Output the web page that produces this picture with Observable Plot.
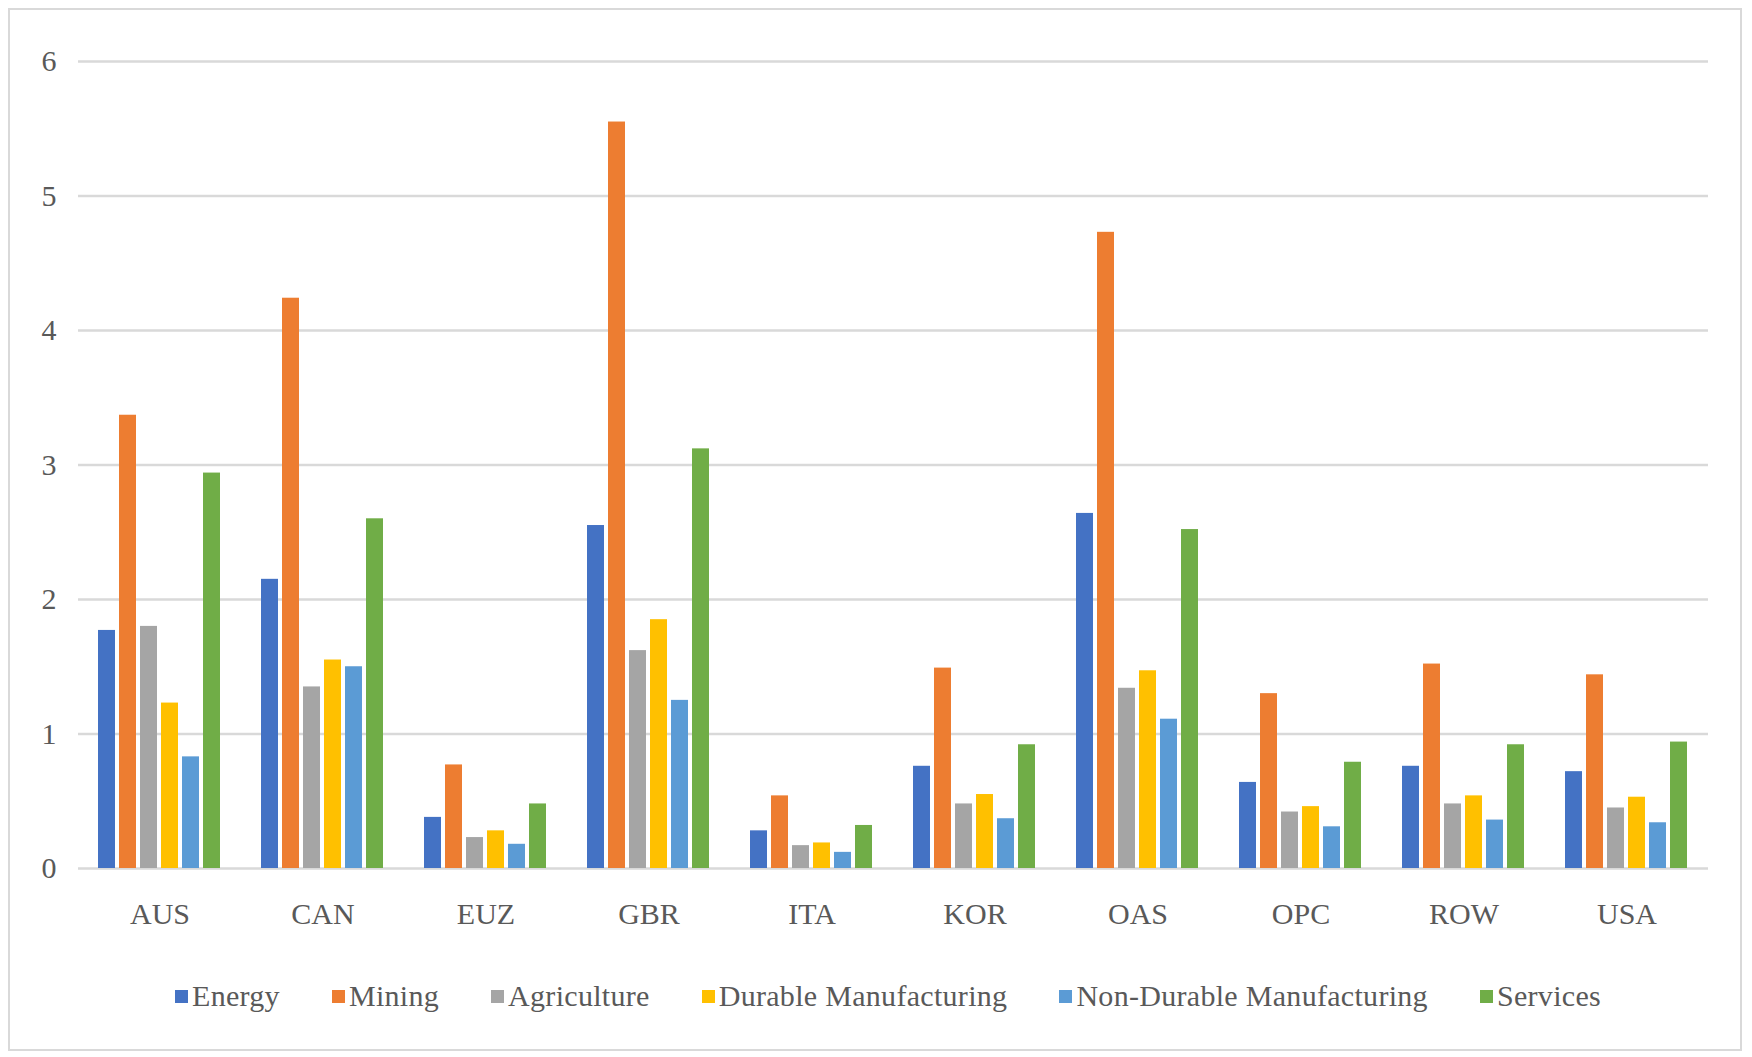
<!DOCTYPE html>
<html>
<head>
<meta charset="utf-8">
<script src="https://cdn.jsdelivr.net/npm/d3@7"></script>
<script src="https://cdn.jsdelivr.net/npm/@observablehq/plot@0.6"></script>
<style>
  html, body { margin: 0; padding: 0; background: #fff; }
  #frame { position: absolute; left: 8px; top: 8px; width: 1734px; height: 1043px; border: 2px solid #d9d9d9; box-sizing: border-box; }
  #chart { position: absolute; left: 0; top: 0; }
  #legend { position: absolute; left: 0; top: 979px; width: 1752px; padding-left: 24px; box-sizing: border-box; display: flex; justify-content: center; gap: 52px;
            font-family: "Liberation Serif", serif; font-size: 30px; color: #595959; letter-spacing: 0.3px; }
  .item { display: flex; align-items: center; gap: 4px; }
  .sw { width: 13px; height: 13px; display: inline-block; }
</style>
</head>
<body>
<div id="frame"></div>
<div id="chart"></div>
<div id="legend"></div>
<script>
const countries = ["AUS","CAN","EUZ","GBR","ITA","KOR","OAS","OPC","ROW","USA"];
const sectors = ["Energy","Mining","Agriculture","Durable Manufacturing","Non-Durable Manufacturing","Services"];
const energy      = [1.77, 2.15, 0.38, 2.55, 0.28, 0.76, 2.64, 0.64, 0.76, 0.72];
const mining      = [3.37, 4.24, 0.77, 5.55, 0.54, 1.49, 4.73, 1.30, 1.52, 1.44];
const agriculture = [1.80, 1.35, 0.23, 1.62, 0.17, 0.48, 1.34, 0.42, 0.48, 0.45];
const durable     = [1.23, 1.55, 0.28, 1.85, 0.19, 0.55, 1.47, 0.46, 0.54, 0.53];
const nondurable  = [0.83, 1.50, 0.18, 1.25, 0.12, 0.37, 1.11, 0.31, 0.36, 0.34];
const services    = [2.94, 2.60, 0.48, 3.12, 0.32, 0.92, 2.52, 0.79, 0.92, 0.94];
const colors = ["#4472C4","#ED7D31","#A5A5A5","#FFC000","#5B9BD5","#70AD47"];
const yTicks = [0,1,2,3,4,5,6];

const series = [energy, mining, agriculture, durable, nondurable, services];
const data = countries.flatMap((c, i) => sectors.map((s, j) => ({country: c, sector: s, value: series[j][i]})));

const chart = Plot.plot({
  width: 1752,
  height: 950,
  marginLeft: 73,
  marginRight: 40,
  marginTop: 61,
  marginBottom: 82,
  style: {fontFamily: "'Liberation Serif', serif", fontSize: "30px", color: "#595959", background: "transparent"},
  fx: {domain: countries, padding: 0, label: null, tickSize: 0, tickPadding: 34},
  x: {domain: sectors, axis: null, paddingInner: 0.18, paddingOuter: 0.87},
  y: {domain: [0, 6], ticks: yTicks, tickFormat: "d", label: null, tickSize: 0, tickPadding: 22},
  color: {domain: sectors, range: colors},
  marks: [
    Plot.ruleY(yTicks, {stroke: "#d9d9d9", strokeWidth: 2.5}),
    Plot.barY(data, {fx: "country", x: "sector", y: "value", fill: "sector"})
  ]
});
document.getElementById("chart").appendChild(chart);

const legend = document.getElementById("legend");
sectors.forEach((s, j) => {
  const item = document.createElement("div");
  item.className = "item";
  const sw = document.createElement("span");
  sw.className = "sw";
  sw.style.background = colors[j];
  const t = document.createElement("span");
  t.textContent = s;
  item.appendChild(sw);
  item.appendChild(t);
  legend.appendChild(item);
});
</script>
</body>
</html>
